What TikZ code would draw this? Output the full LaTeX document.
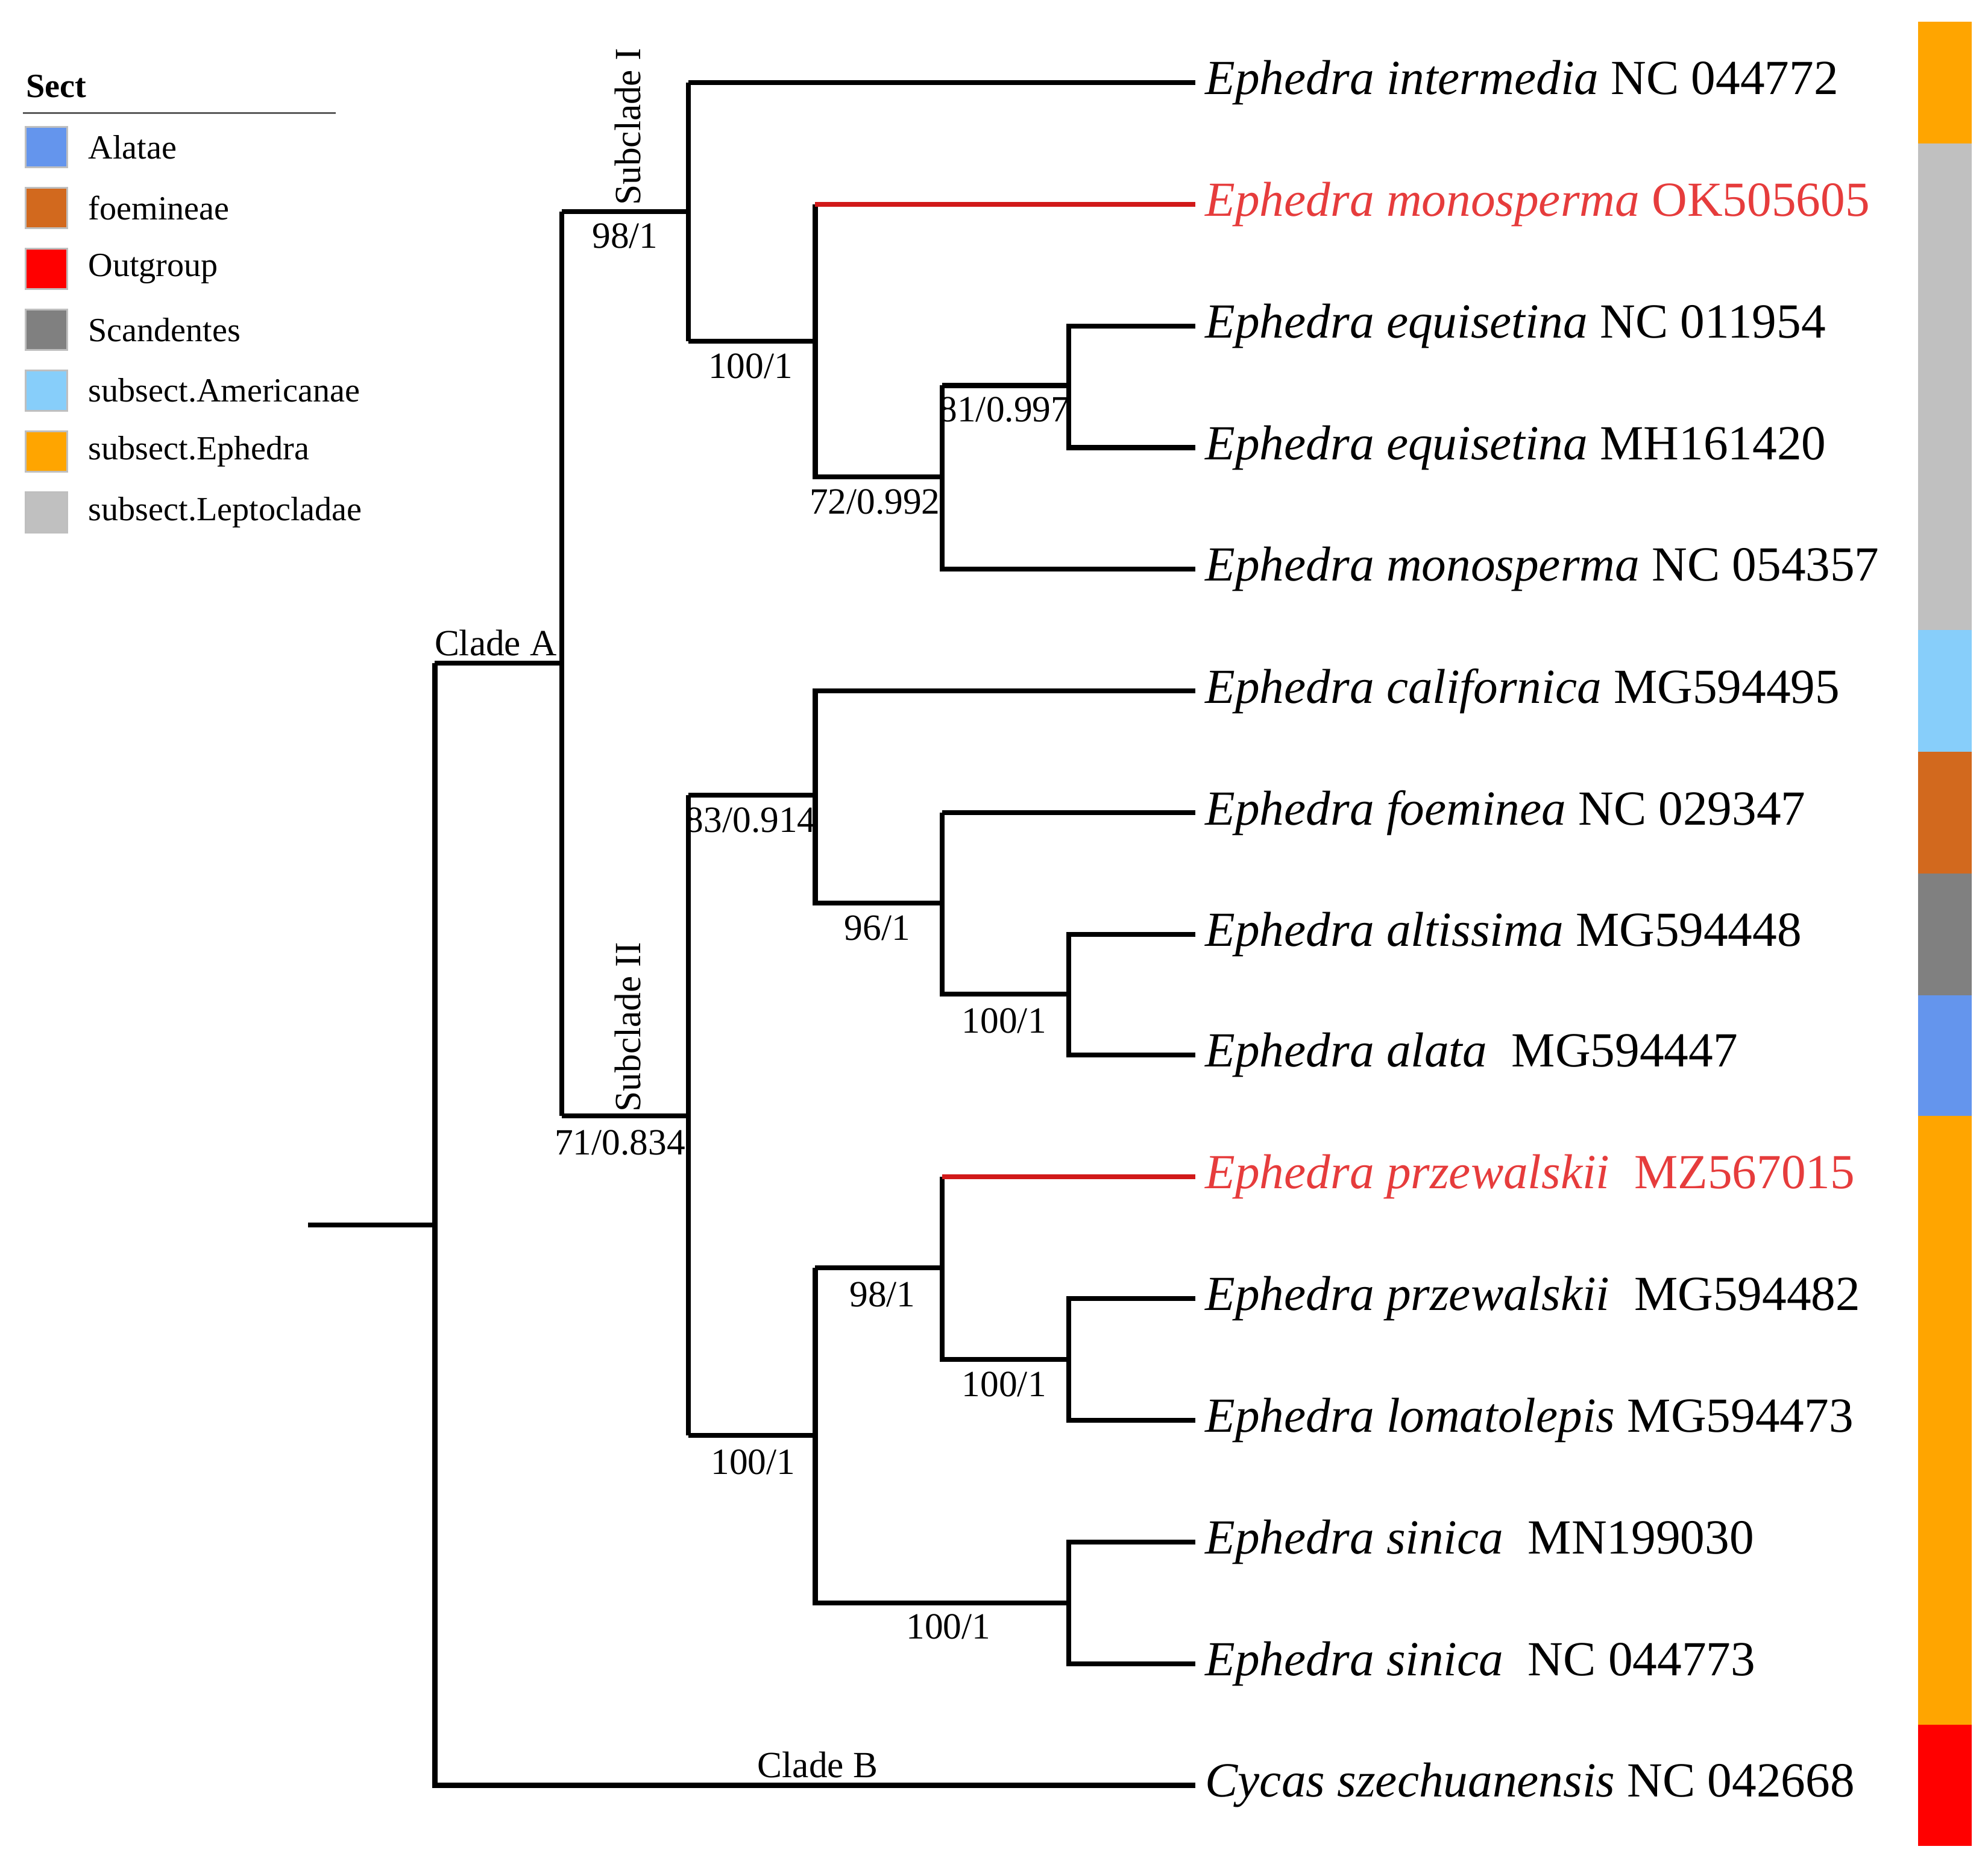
\documentclass[tikz,border=0pt]{standalone}
\usepackage{fontspec}
\setmainfont{Liberation Serif}
\begin{document}
\begin{tikzpicture}[x=0.1mm,y=-0.1mm,
 br/.style={line width=1.1pt,black},
 red br/.style={line width=1.1pt,color=red!80!black!90},
 tip/.style={anchor=west,font=\fontsize{11pt}{13pt}\selectfont,inner sep=0pt},
 lab/.style={font=\fontsize{8.3pt}{10pt}\selectfont,inner sep=0pt},
 leg/.style={font=\fontsize{7.6pt}{9pt}\selectfont,anchor=west,inner sep=0pt},
 sw/.style={minimum width=33\pgflinewidth,draw=gray!60,line width=0.4pt}]
\useasboundingbox (0,0) rectangle (1568,1470);
\definecolor{cA}{RGB}{100,149,237}\definecolor{cF}{RGB}{210,105,30}
\definecolor{cO}{RGB}{255,0,0}\definecolor{cS}{RGB}{128,128,128}
\definecolor{cAm}{RGB}{135,206,250}\definecolor{cE}{RGB}{255,165,0}
\definecolor{cL}{RGB}{192,192,192}\definecolor{tred}{RGB}{230,60,60}
% tips
\foreach \n/\y in {1/65,2/161,3/257,4/353,5/449,6/545,7/641,8/737,9/832,10/928,11/1024,12/1120,13/1216,14/1312,15/1408}
  \coordinate (t\n) at (943,\y);
% internal nodes
\coordinate (r0) at (243,966);
\coordinate (root) at (343,966);
\coordinate (cA) at (443,523);
\coordinate (s1) at (543,167);
\coordinate (s2) at (543,880);
\coordinate (n1) at (643,269);
\coordinate (n2) at (743,376);
\coordinate (n3) at (843,304);
\coordinate (n4) at (643,627);
\coordinate (n5) at (743,712);
\coordinate (n6) at (843,784);
\coordinate (n7) at (643,1132);
\coordinate (n8) at (743,1000);
\coordinate (n9) at (843,1072);
\coordinate (n10) at (843,1264);
% edges
\draw[br] (r0) -- (root);
\draw[br] (root |- cA) -- (root |- t15) -- (t15);
\draw[br] (root |- cA) -- (cA);
\draw[br] (cA |- s1) -- (cA |- s2);
\draw[br] (cA |- s1) -- (s1); \draw[br] (cA |- s2) -- (s2);
\draw[br] (s1 |- t1) -- (s1 |- n1);
\draw[br] (s1 |- t1) -- (t1); \draw[br] (s1 |- n1) -- (n1);
\draw[br] (n1 |- t2) -- (n1 |- n2) -- (n2);
\draw[red br] (n1 |- t2) -- (t2);
\draw[br] (n2 |- n3) -- (n2 |- t5) -- (t5);
\draw[br] (n2 |- n3) -- (n3);
\draw[br] (t3) -- (n3 |- t3) -- (n3 |- t4) -- (t4);
\draw[br] (s2 |- n4) -- (s2 |- n7);
\draw[br] (s2 |- n4) -- (n4); \draw[br] (s2 |- n7) -- (n7);
\draw[br] (t6) -- (n4 |- t6) -- (n4 |- n5) -- (n5);
\draw[br] (n5 |- t7) -- (t7); \draw[br] (n5 |- t7) -- (n5 |- n6) -- (n6);
\draw[br] (t8) -- (n6 |- t8) -- (n6 |- t9) -- (t9);
\draw[br] (n7 |- n8) -- (n7 |- n10) -- (n10);
\draw[br] (n7 |- n8) -- (n8);
\draw[br] (n8 |- t10) -- (n8 |- n9) -- (n9);
\draw[red br] (n8 |- t10) -- (t10);
\draw[br] (t11) -- (n9 |- t11) -- (n9 |- t12) -- (t12);
\draw[br] (t13) -- (n10 |- t13) -- (n10 |- t14) -- (t14);
% tip labels
\node[tip] (l1) at (950,65) {\textit{Ephedra intermedia} NC 044772};
\node[tip,text=tred] (l2) at (950,161) {\textit{Ephedra monosperma} OK505605};
\node[tip] (l3) at (950,257) {\textit{Ephedra equisetina} NC 011954};
\node[tip] (l4) at (950,353) {\textit{Ephedra equisetina} MH161420};
\node[tip] (l5) at (950,449) {\textit{Ephedra monosperma} NC 054357};
\node[tip] (l6) at (950,545) {\textit{Ephedra californica} MG594495};
\node[tip] (l7) at (950,641) {\textit{Ephedra foeminea} NC 029347};
\node[tip] (l8) at (950,737) {\textit{Ephedra altissima} MG594448};
\node[tip] (l9) at (950,832) {\textit{Ephedra alata} \ MG594447};
\node[tip,text=tred] (l10) at (950,928) {\textit{Ephedra przewalskii} \ MZ567015};
\node[tip] (l11) at (950,1024) {\textit{Ephedra przewalskii} \ MG594482};
\node[tip] (l12) at (950,1120) {\textit{Ephedra lomatolepis} MG594473};
\node[tip] (l13) at (950,1216) {\textit{Ephedra sinica} \ MN199030};
\node[tip] (l14) at (950,1312) {\textit{Ephedra sinica} \ NC 044773};
\node[tip] (l15) at (950,1408) {\textit{Cycas szechuanensis} NC 042668};
% branch labels
\node[lab] (b1) at (493,186) {98/1};
\node[lab] (b2) at (592,289) {100/1};
\node[lab] (b3) at (690,396) {72/0.992};
\node[lab] (b4) at (792,323) {81/0.997};
\node[lab] (b5) at (391,507) {Clade A};
\node[lab,rotate=90] (b6) at (495,100) {Subclade I};
\node[lab,rotate=90] (b7) at (495,810) {Subclade II};
\node[lab] (b8) at (489,901) {71/0.834};
\node[lab] (b9) at (592,647) {83/0.914};
\node[lab] (b10) at (692,732) {96/1};
\node[lab] (b11) at (792,805) {100/1};
\node[lab] (b12) at (696,1021) {98/1};
\node[lab] (b13) at (792,1092) {100/1};
\node[lab] (b14) at (594,1153) {100/1};
\node[lab] (b15) at (748,1283) {100/1};
\node[lab] (b16) at (645,1392) {Clade B};
% colour bar
\foreach \c/\a/\b in {cE/17/113,cL/113/497,cAm/497/593,cF/593/689,cS/689/785,cA/785/880,cE/880/1360,cO/1360/1456}
  \fill[\c] (1513,\a) rectangle (1555,\b);
% legend
\node[leg,font=\fontsize{7.6pt}{9pt}\selectfont\bfseries] (lt) at (20,68) {Sect};
\draw[line width=0.4pt,gray!70!black] (18,89) -- (265,89);
\foreach \c/\t [count=\i] in {cA/Alataae,cF/foemineae,cO/Outgroup,cS/Scandentes,cAm/subsect.Americanae,cE/subsect.Ephedra,cL/subsect.Leptocladae}{
  \pgfmathsetmacro\yy{116+48*(\i-1)}
  \fill[\c,draw=gray!50] (20,\yy-16) rectangle (53,\yy+16);
}
\node[leg] (g1) at (69,116) {Alatae};
\node[leg] (g2) at (69,164) {foemineae};
\node[leg] (g3) at (69,212) {Outgroup};
\node[leg] (g4) at (69,260) {Scandentes};
\node[leg] (g5) at (69,308) {subsect.Americanae};
\node[leg] (g6) at (69,356) {subsect.Ephedra};
\node[leg] (g7) at (69,404) {subsect.Leptocladae};
\end{tikzpicture}
\end{document}
